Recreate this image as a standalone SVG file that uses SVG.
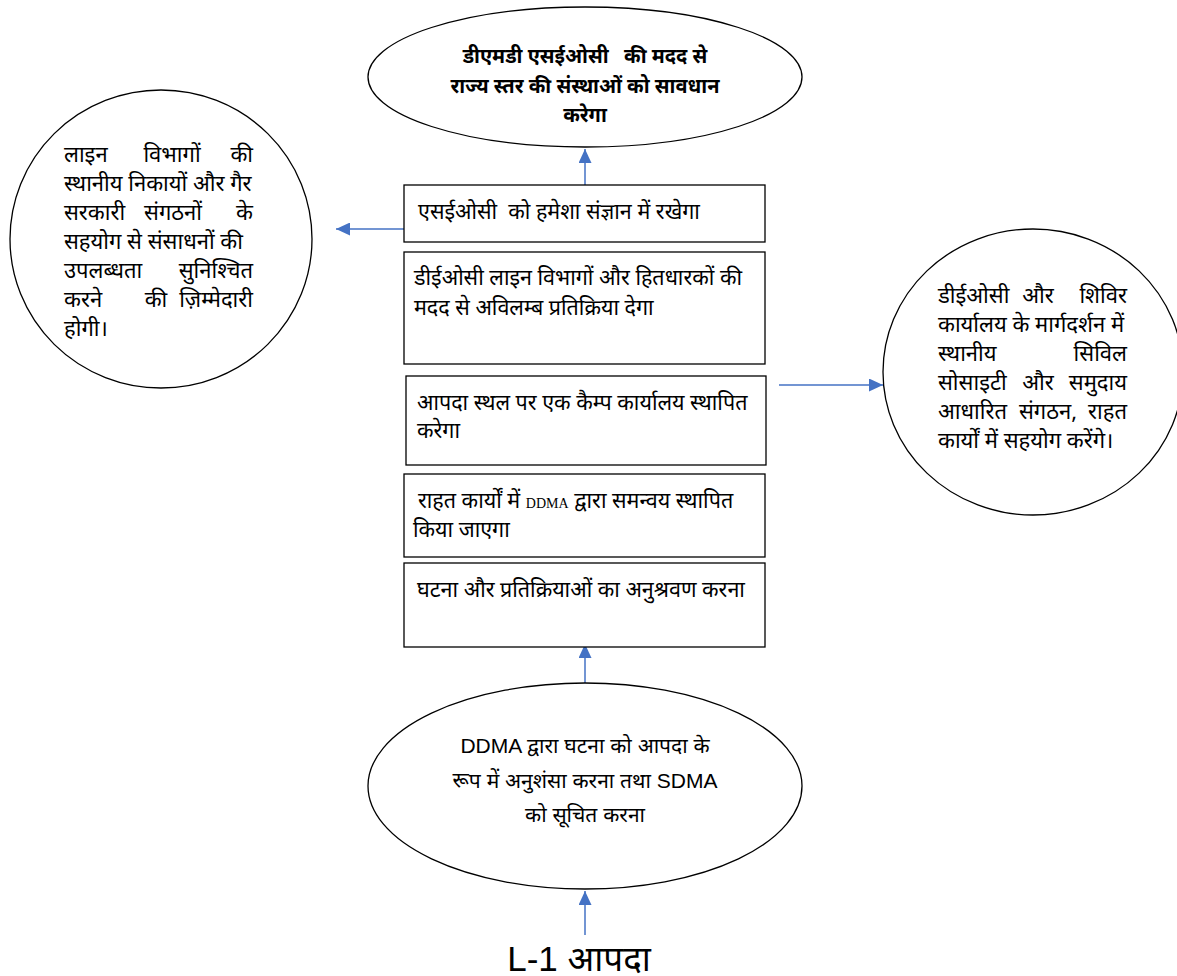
<svg xmlns="http://www.w3.org/2000/svg" width="1177" height="976" viewBox="0 0 1177 976">
<defs>
<marker id="ah" viewBox="0 0 14 13" refX="14" refY="6.5" markerWidth="14" markerHeight="13" markerUnits="userSpaceOnUse" orient="auto">
<path d="M0,0 L14,6.5 L0,13 z" fill="#4472C4"/>
</marker>
<style>
.shape{fill:#fff;stroke:#000;stroke-width:1.3}
.t{font-family:"Noto Sans","DejaVu Sans",sans-serif;font-size:22px;fill:#000}
.tx{font-family:"Noto Sans","DejaVu Sans",sans-serif;font-size:21.5px;fill:#000}
.tb{font-family:"Noto Sans","DejaVu Sans",sans-serif;font-size:20px;font-weight:bold;fill:#000}
.te{font-family:"Liberation Sans","Noto Sans",sans-serif;font-size:21px;fill:#000}
.tl{font-family:"Liberation Sans","Noto Sans",sans-serif;font-size:35px;fill:#000}
.conn{stroke:#4472C4;stroke-width:1.5;fill:none;marker-end:url(#ah)}
</style>
</defs>
<rect width="1177" height="976" fill="#fff"/>
<g id="connectors">
<line class="conn" x1="585" y1="185" x2="585" y2="149"/>
<line class="conn" x1="407" y1="229" x2="336" y2="229"/>
<line class="conn" x1="779" y1="385" x2="883" y2="385"/>
<line class="conn" x1="585" y1="683" x2="585" y2="644"/>
<line class="conn" x1="585" y1="935" x2="585" y2="891"/>
</g>
<g id="node-top">
<ellipse class="shape" cx="585" cy="77" rx="217" ry="70"/>
<text class="tb" text-anchor="middle" xml:space="preserve"><tspan x="585" y="63">डीएमडी एसईओसी   की मदद से</tspan><tspan x="585" y="93">राज्य स्तर की संस्थाओं को सावधान</tspan><tspan x="585" y="122">करेगा</tspan></text>
</g>
<g id="node-left">
<ellipse class="shape" cx="161" cy="239" rx="151" ry="149"/>
<text class="t"><tspan x="64" y="162">लाइन</tspan><tspan x="172" y="162" text-anchor="middle">विभागों</tspan><tspan x="253" y="162" text-anchor="end">की</tspan></text>
<text class="t"><tspan x="64" y="191">स्थानीय निकायों और गैर</tspan></text>
<text class="t"><tspan x="64" y="220">सरकारी</tspan><tspan x="173" y="220" text-anchor="middle">संगठनों</tspan><tspan x="253" y="220" text-anchor="end">के</tspan></text>
<text class="t"><tspan x="64" y="249">सहयोग से संसाधनों की</tspan></text>
<text class="t"><tspan x="64" y="278">उपलब्धता</tspan><tspan x="253" y="278" text-anchor="end">सुनिश्चित</tspan></text>
<text class="t"><tspan x="64" y="307">करने</tspan><tspan x="156" y="307" text-anchor="middle">की</tspan><tspan x="253" y="307" text-anchor="end">ज़िम्मेदारी</tspan></text>
<text class="t"><tspan x="64" y="336">होगी।</tspan></text>
</g>
<g id="node-right">
<ellipse class="shape" cx="1033" cy="372" rx="150" ry="143"/>
<text class="t"><tspan x="938" y="303">डीईओसी</tspan><tspan x="1038" y="303" text-anchor="middle">और</tspan><tspan x="1127" y="303" text-anchor="end">शिविर</tspan></text>
<text class="t"><tspan x="938" y="332">कार्यालय के मार्गदर्शन में</tspan></text>
<text class="t"><tspan x="938" y="361">स्थानीय</tspan><tspan x="1127" y="361" text-anchor="end">सिविल</tspan></text>
<text class="t"><tspan x="938" y="390">सोसाइटी</tspan><tspan x="1038" y="390" text-anchor="middle">और</tspan><tspan x="1127" y="390" text-anchor="end">समुदाय</tspan></text>
<text class="t"><tspan x="938" y="419">आधारित</tspan><tspan x="1048" y="419" text-anchor="middle">संगठन,</tspan><tspan x="1127" y="419" text-anchor="end">राहत</tspan></text>
<text class="t"><tspan x="938" y="448">कार्यों में सहयोग करेंगे।</tspan></text>
</g>
<g id="box1">
<rect class="shape" x="404" y="185" width="361" height="57"/>
<text class="tx" xml:space="preserve"><tspan x="418" y="219">एसईओसी  को हमेशा संज्ञान में रखेगा</tspan></text>
</g>
<g id="box2">
<rect class="shape" x="404" y="252" width="361" height="112"/>
<text class="tx"><tspan x="414" y="285">डीईओसी लाइन विभागों और हितधारकों की</tspan><tspan x="414" y="315">मदद से अविलम्ब प्रतिक्रिया देगा</tspan></text>
</g>
<g id="box3">
<rect class="shape" x="406" y="376" width="360" height="89"/>
<text class="tx"><tspan x="417" y="410">आपदा स्थल पर एक कैम्प कार्यालय स्थापित</tspan><tspan x="417" y="438">करेगा</tspan></text>
</g>
<g id="box4">
<rect class="shape" x="404" y="474" width="361" height="83"/>
<text class="tx"><tspan x="418" y="508">राहत कार्यों में <tspan font-family="Liberation Serif" font-size="14">DDMA</tspan> द्वारा समन्वय स्थापित</tspan><tspan x="413" y="537">किया जाएगा</tspan></text>
</g>
<g id="box5">
<rect class="shape" x="404" y="563" width="361" height="84"/>
<text class="tx"><tspan x="417" y="597">घटना और प्रतिक्रियाओं का अनुश्रवण करना</tspan></text>
</g>
<g id="node-bottom">
<ellipse class="shape" cx="585" cy="786" rx="217" ry="103"/>
<text class="te" text-anchor="middle"><tspan x="585" y="753">DDMA द्वारा घटना को आपदा के</tspan><tspan x="585" y="788">रूप में अनुशंसा करना तथा SDMA</tspan><tspan x="585" y="822">को सूचित करना</tspan></text>
</g>
<g id="label-l1">
<text class="tl" x="579" y="971" text-anchor="middle">L-1 आपदा</text>
</g>
</svg>
